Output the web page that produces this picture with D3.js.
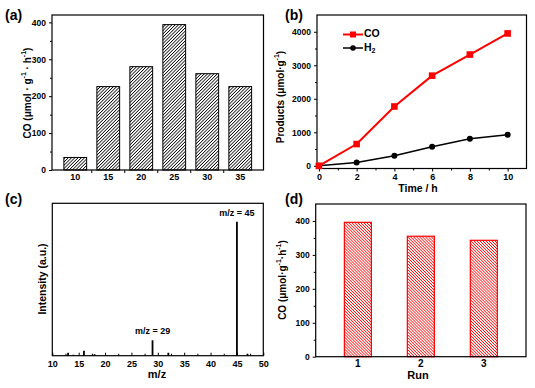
<!DOCTYPE html>
<html><head><meta charset="utf-8">
<script src="https://cdn.jsdelivr.net/npm/d3@7"></script>
<style>
html,body{margin:0;padding:0;background:#fff;}
text{font-family:"Liberation Sans",Arial,sans-serif;font-weight:bold;fill:#000;}
</style></head>
<body><svg id="c" width="535" height="388"></svg>
<script>
// ---- data ----
const aCategories = ["10","15","20","25","30","35"];
const aValues = [34, 226, 280, 394, 261, 226];
const aYTicks = [0,100,200,300,400];

const bTime = [0,2,4,6,8,10];
const bCO = [0, 650, 1770, 2690, 3320, 3950];
const bH2 = [0, 100, 300, 570, 810, 930];
const bYTicks = [0,1000,2000,3000,4000];
const bXTicks = [0,2,4,6,8,10];

const cMz = [13, 14, 16, 18, 29, 32, 45, 47];
const cIntensity = [2.2, 0.7, 3.7, 1.1, 11.5, 2.2, 100, 1.5];
const cXTicks = [10,15,20,25,30,35,40,45,50];
const cLabels = [{mz:29, text:"m/z = 29"},{mz:45, text:"m/z = 45"}];

const dRuns = ["1","2","3"];
const dValues = [396, 355, 343];
const dYTicks = [0,100,200,300,400];

// ---- drawing ----
const svg = d3.select("#c");
const defs = svg.append("defs");
function hatch(id, color, angle, w, sw){
  const p = defs.append("pattern").attr("id", id).attr("patternUnits","userSpaceOnUse")
    .attr("width", w).attr("height", w).attr("patternTransform", `rotate(${angle})`);
  p.append("rect").attr("width", w).attr("height", w).attr("fill","#fff");
  p.append("line").attr("x1", w/2).attr("x2", w/2).attr("y1", 0).attr("y2", w)
    .attr("stroke", color).attr("stroke-width", sw);
}
hatch("hA", "#000", 45, 2.3, 0.8);
hatch("hD", "#ff0000", -45, 2.1, 0.75);

function frame(g, x0, x1, y0, y1){
  g.append("rect").attr("x", x0).attr("y", y0).attr("width", x1-x0).attr("height", y1-y0)
    .attr("fill","none").attr("stroke","#000").attr("stroke-width",1.2);
}
function styleAxis(sel, fs){
  sel.selectAll(".domain").remove();
  sel.selectAll("line").attr("stroke","#000").attr("stroke-width",1);
  sel.selectAll("text").style("font-size", fs+"px").style("font-family","'Liberation Sans',Arial,sans-serif").style("font-weight","bold");
}
function panelLabel(t, x, y){
  svg.append("text").attr("x", x).attr("y", y).attr("dominant-baseline","middle")
    .style("font-size","14px").text(t);
}
function yTitle(x, y, parts, fs){
  const t = svg.append("text").attr("transform", `translate(${x},${y}) rotate(-90)`)
    .attr("text-anchor","middle").attr("dominant-baseline","middle").style("font-size", fs+"px");
  parts.forEach(p=>{
    const s = t.append("tspan").text(p.t);
    if(p.sup){ s.attr("dy", -4).style("font-size",(fs*0.7)+"px"); }
    else if(p.after){ s.attr("dy", 4); }
  });
  return t;
}
const fmt = d3.format("d");

// Panel (a)
{
  const L=52, R=263.5, T=15, B=170;
  const g = svg.append("g");
  const x = d3.scaleBand().domain(aCategories).range([L,R]).paddingInner(0.31).paddingOuter(0.36);
  const y = d3.scaleLinear().domain([0,420]).range([B,T]);
  g.selectAll("rect.bar").data(aValues).join("rect").attr("class","bar")
    .attr("x",(d,i)=>x(aCategories[i])).attr("width",x.bandwidth())
    .attr("y",d=>y(d)).attr("height",d=>B-y(d))
    .attr("fill","url(#hA)").attr("stroke","#000").attr("stroke-width",1);
  const ya = g.append("g").attr("transform",`translate(${L},0)`)
    .call(d3.axisLeft(y).tickValues(aYTicks).tickFormat(fmt).tickSize(3).tickPadding(3));
  styleAxis(ya, 8.5);
  const ym = g.append("g").attr("transform",`translate(${L},0)`)
    .call(d3.axisLeft(y).tickValues([50,150,250,350]).tickSize(2).tickFormat(""));
  styleAxis(ym, 8.5);
  const xa = g.append("g").attr("transform",`translate(0,${B})`)
    .call(d3.axisBottom(x).tickSize(0).tickPadding(4));
  styleAxis(xa, 9);
  const bounds = aCategories.slice(1).map(c=>x(c)-x.step()*x.paddingInner()/2);
  g.selectAll("line.bt").data(bounds).join("line").attr("x1",d=>d).attr("x2",d=>d)
    .attr("y1",B).attr("y2",B+3).attr("stroke","#000");
  frame(g, L, R, T, B);
  yTitle(28, 93, [{t:"CO (μmol · g"},{t:"-1",sup:true},{t:" · h",after:true},{t:"-1",sup:true},{t:")",after:true}], 10);
  panelLabel("(a)", 5, 16);
}

// Panel (b)
{
  const L=317, R=526.5, T=15, B=168.5;
  const g = svg.append("g");
  const x = d3.scaleLinear().domain([-0.1,11]).range([L,R]);
  const y = d3.scaleLinear().domain([-80,4500]).range([B,T]);
  const ya = g.append("g").attr("transform",`translate(${L},0)`)
    .call(d3.axisLeft(y).tickValues(bYTicks).tickFormat(fmt).tickSize(3).tickPadding(3));
  styleAxis(ya, 8.5);
  const ym = g.append("g").attr("transform",`translate(${L},0)`)
    .call(d3.axisLeft(y).tickValues([500,1500,2500,3500]).tickSize(2).tickFormat(""));
  styleAxis(ym, 8.5);
  const xa = g.append("g").attr("transform",`translate(0,${B})`)
    .call(d3.axisBottom(x).tickValues(bXTicks).tickFormat(fmt).tickSize(3).tickPadding(2));
  styleAxis(xa, 9);
  const xm = g.append("g").attr("transform",`translate(0,${B})`)
    .call(d3.axisBottom(x).tickValues([1,3,5,7,9]).tickSize(2).tickFormat(""));
  styleAxis(xm, 9);
  frame(g, L, R, T, B);
  const line = d3.line().x((d,i)=>x(bTime[i])).y(d=>y(d));
  g.append("path").datum(bH2).attr("d",line).attr("fill","none").attr("stroke","#000").attr("stroke-width",1.5);
  g.selectAll("circle.h").data(bH2).join("circle").attr("cx",(d,i)=>x(bTime[i])).attr("cy",d=>y(d)).attr("r",3).attr("fill","#000");
  g.append("path").datum(bCO).attr("d",line).attr("fill","none").attr("stroke","#ff0000").attr("stroke-width",2);
  g.selectAll("rect.co").data(bCO).join("rect").attr("x",(d,i)=>x(bTime[i])-3.3).attr("y",d=>y(d)-3.3)
    .attr("width",6.6).attr("height",6.6).attr("fill","#ff0000");
  g.append("line").attr("x1",343).attr("x2",363).attr("y1",34.5).attr("y2",34.5).attr("stroke","#ff0000").attr("stroke-width",2);
  g.append("rect").attr("x",350).attr("y",31.5).attr("width",6).attr("height",6).attr("fill","#ff0000");
  g.append("text").attr("x",364).attr("y",34.5).attr("dominant-baseline","middle").style("font-size","10.5px").text("CO");
  g.append("line").attr("x1",343).attr("x2",363).attr("y1",48).attr("y2",48).attr("stroke","#000").attr("stroke-width",1.5);
  g.append("circle").attr("cx",353).attr("cy",48).attr("r",2.8).attr("fill","#000");
  const ht = g.append("text").attr("x",364).attr("y",48).attr("dominant-baseline","middle").style("font-size","10.5px");
  ht.append("tspan").text("H");
  ht.append("tspan").attr("dy",3).style("font-size","7px").text("2");
  svg.append("text").attr("x",418).attr("y",189.5).attr("text-anchor","middle").attr("dominant-baseline","middle")
    .style("font-size","10.5px").text("Time / h");
  yTitle(281, 97, [{t:"Products (μmol·g"},{t:"-1",sup:true},{t:")",after:true}], 10);
  panelLabel("(b)", 285, 16);
}

// Panel (c)
{
  const L=52.3, R=263.3, T=203.3, B=355.7;
  const g = svg.append("g");
  const x = d3.scaleLinear().domain([10,50]).range([L,R]);
  const y = d3.scaleLinear().domain([0,113.7]).range([B,T]);
  g.selectAll("line.pk").data(cIntensity).join("line").attr("class","pk")
    .attr("x1",(d,i)=>x(cMz[i])).attr("x2",(d,i)=>x(cMz[i]))
    .attr("y1",B).attr("y2",d=>y(d)).attr("stroke","#000").attr("stroke-width",1.8);
  const xa = g.append("g").attr("transform",`translate(0,${B})`)
    .call(d3.axisBottom(x).tickValues(cXTicks).tickFormat(fmt).tickSizeInner(-3).tickSizeOuter(0).tickPadding(5));
  styleAxis(xa, 9);
  const xm = g.append("g").attr("transform",`translate(0,${B})`)
    .call(d3.axisBottom(x).tickValues(d3.range(12.5,50,5)).tickSizeInner(-2).tickSizeOuter(0).tickFormat(""));
  styleAxis(xm, 9);
  frame(g, L, R, T, B);
  g.selectAll("text.ann").data(cLabels).join("text").attr("class","ann")
    .attr("x",d=>x(d.mz)).attr("y",d=>y(cIntensity[cMz.indexOf(d.mz)])-6)
    .attr("text-anchor","middle").style("font-size","9px").text(d=>d.text);
  svg.append("text").attr("x",157).attr("y",375.5).attr("text-anchor","middle").attr("dominant-baseline","middle")
    .style("font-size","11px").text("m/z");
  yTitle(42.5, 279, [{t:"Intensity (a.u.)"}], 10.5);
  panelLabel("(c)", 5, 200);
}

// Panel (d)
{
  const L=315.7, R=526, T=204, B=356.7;
  const g = svg.append("g");
  const x = d3.scaleBand().domain(dRuns).range([L,R]).paddingInner(0.571).paddingOuter(0.455);
  const y = d3.scaleLinear().domain([0,450]).range([B,T]);
  g.selectAll("rect.bar").data(dValues).join("rect").attr("class","bar")
    .attr("x",(d,i)=>x(dRuns[i])).attr("width",x.bandwidth())
    .attr("y",d=>y(d)).attr("height",d=>B-y(d))
    .attr("fill","url(#hD)").attr("stroke","#ff0000").attr("stroke-width",1.2);
  const ya = g.append("g").attr("transform",`translate(${L},0)`)
    .call(d3.axisLeft(y).tickValues(dYTicks).tickFormat(fmt).tickSize(3).tickPadding(3));
  styleAxis(ya, 8.5);
  const ym = g.append("g").attr("transform",`translate(${L},0)`)
    .call(d3.axisLeft(y).tickValues([50,150,250,350]).tickSize(2).tickFormat(""));
  styleAxis(ym, 8.5);
  const xa = g.append("g").attr("transform",`translate(0,${B})`)
    .call(d3.axisBottom(x).tickSize(0).tickPadding(3));
  styleAxis(xa, 10);
  frame(g, L, R, T, B);
  svg.append("text").attr("x",418).attr("y",376).attr("text-anchor","middle").attr("dominant-baseline","middle")
    .style("font-size","11px").text("Run");
  yTitle(283, 280, [{t:"CO (μmol·g"},{t:"-1",sup:true},{t:"·h",after:true},{t:"-1",sup:true},{t:")",after:true}], 10);
  panelLabel("(d)", 285, 200);
}
</script></body></html>
